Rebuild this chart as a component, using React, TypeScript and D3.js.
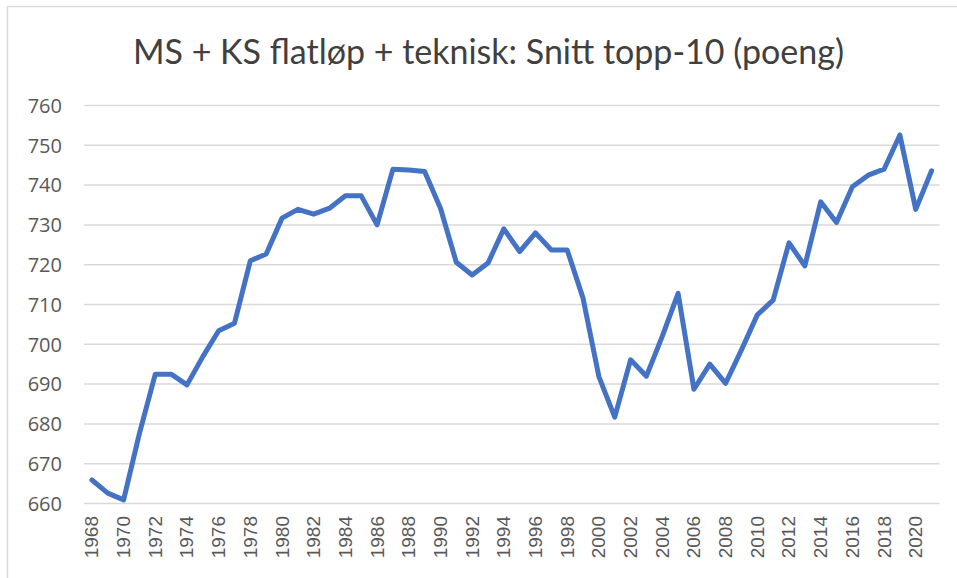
import React, { useEffect, useRef } from "react";
import * as d3 from "d3";

const years = [
  1968, 1969, 1970, 1971, 1972, 1973, 1974, 1975, 1976, 1977, 1978, 1979,
  1980, 1981, 1982, 1983, 1984, 1985, 1986, 1987, 1988, 1989, 1990, 1991,
  1992, 1993, 1994, 1995, 1996, 1997, 1998, 1999, 2000, 2001, 2002, 2003,
  2004, 2005, 2006, 2007, 2008, 2009, 2010, 2011, 2012, 2013, 2014, 2015,
  2016, 2017, 2018, 2019, 2020, 2021,
];

const snitt = [
  665.9, 662.6, 660.9, 677.6, 692.5, 692.5, 689.8, 696.9, 703.4, 705.3,
  721.0, 722.7, 731.7, 733.9, 732.7, 734.2, 737.3, 737.3, 730.0, 744.0,
  743.8, 743.4, 734.2, 720.6, 717.4, 720.4, 729.0, 723.3, 728.0, 723.7,
  723.7, 711.6, 691.9, 681.7, 696.1, 692.0, 702.0, 712.8, 688.7, 695.0,
  690.2, 698.6, 707.4, 711.1, 725.5, 719.7, 735.8, 730.6, 739.6, 742.5,
  744.0, 752.6, 733.9, 743.6,
];

const yTicks = [660, 670, 680, 690, 700, 710, 720, 730, 740, 750, 760];
const xLabelYears = years.filter((y) => y % 2 === 0);

const title = "MS + KS flatløp + teknisk: Snitt topp-10 (poeng)";

function drawChart(container: HTMLDivElement) {
  const width = 957,
    height = 578;
  const left = 84,
    right = 939.5,
    top = 105.5,
    bottom = 503.5;

  const gridColor = "#d9d9d9",
    textColor = "#595959",
    lineColor = "#4472c4";

  d3.select(container).selectAll("svg").remove();
  const svg = d3
    .select(container)
    .append("svg")
    .attr("width", width)
    .attr("height", height)
    .style("display", "block");

  // chart area border
  svg
    .append("rect")
    .attr("x", 7.5)
    .attr("y", 6.5)
    .attr("width", width)
    .attr("height", height)
    .style("fill", "#ffffff")
    .style("stroke", gridColor)
    .style("stroke-width", "1.5px");

  svg
    .append("text")
    .attr("x", 488.5)
    .attr("y", 64)
    .attr("text-anchor", "middle")
    .style("font-family", "Lato, 'Open Sans', sans-serif")
    .style("font-size", "34px")
    .style("fill", "#404040")
    .text(title);

  const x = d3
    .scaleBand<number>()
    .domain(years)
    .range([left, right]);
  const cx = (yr: number) => (x(yr) as number) + x.bandwidth() / 2;

  const y = d3.scaleLinear().domain([660, 760]).range([bottom, top]);

  // horizontal gridlines
  svg
    .append("g")
    .selectAll("line")
    .data(yTicks)
    .join("line")
    .attr("x1", left)
    .attr("x2", right)
    .attr("y1", (d) => y(d))
    .attr("y2", (d) => y(d))
    .style("stroke", gridColor)
    .style("stroke-width", "1.5px");

  // y tick labels
  svg
    .append("g")
    .selectAll("text")
    .data(yTicks)
    .join("text")
    .attr("x", 62)
    .attr("y", (d) => y(d))
    .attr("dy", "0.36em")
    .attr("text-anchor", "end")
    .style("font-family", "'Open Sans', sans-serif")
    .style("font-size", "20px")
    .style("fill", textColor)
    .text((d) => d);

  // x tick labels, rotated
  svg
    .append("g")
    .selectAll("text")
    .data(xLabelYears)
    .join("text")
    .attr("transform", (d) => "translate(" + (cx(d) + 6.5) + ",516) rotate(-90)")
    .attr("text-anchor", "end")
    .style("font-family", "'Liberation Sans', Arial, sans-serif")
    .style("font-size", "19px")
    .style("fill", textColor)
    .text((d) => d);

  const line = d3
    .line<number>()
    .x((d, i) => cx(years[i]))
    .y((d) => y(d));

  svg
    .append("path")
    .datum(snitt)
    .attr("d", line)
    .style("fill", "none")
    .style("stroke", lineColor)
    .style("stroke-width", "5px")
    .style("stroke-linejoin", "round")
    .style("stroke-linecap", "round");
}

export default function App() {
  const chartContainer = useRef<HTMLDivElement>(null);
  useEffect(() => {
    if (chartContainer.current) drawChart(chartContainer.current);
  }, []);

  return (
    <div
      ref={chartContainer}
      style={{ position: "absolute", left: 0, top: 0, width: 957, height: 578, overflow: "hidden", background: "#ffffff" }}
    />
  );
}
